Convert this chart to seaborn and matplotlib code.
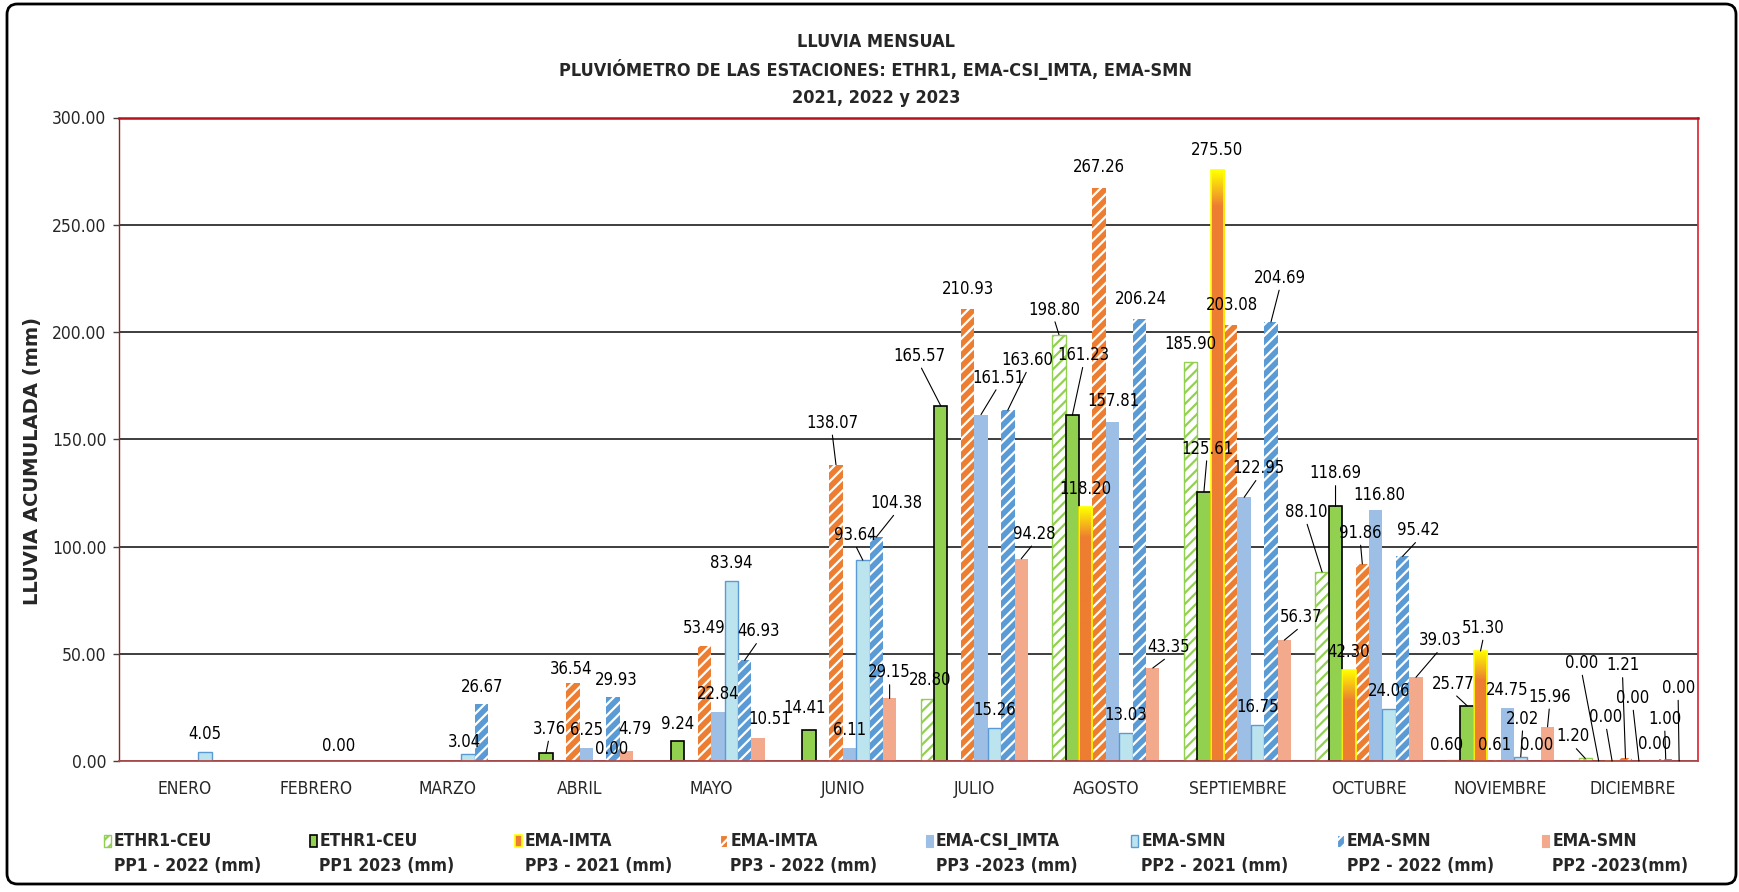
import numpy as np
import pandas as pd
import matplotlib
matplotlib.use("Agg")
import matplotlib.pyplot as plt
import seaborn as sns
from matplotlib import font_manager
from matplotlib.font_manager import FontProperties
from matplotlib.patches import Rectangle, FancyBboxPatch
from matplotlib.colors import to_rgb

# ---------------------------------------------------------------- data
nan = np.nan
months = ["ENERO", "FEBRERO", "MARZO", "ABRIL", "MAYO", "JUNIO", "JULIO",
          "AGOSTO", "SEPTIEMBRE", "OCTUBRE", "NOVIEMBRE", "DICIEMBRE"]

ethr1_2022 = [nan, nan, nan, nan, nan, nan, 28.80, 198.80, 185.90, 88.10, 0.60, 1.20]
ethr1_2023 = [nan, nan, nan, 3.76, 9.24, 14.41, 165.57, 161.23, 125.61, 118.69, 25.77, 0.00]
imta_2021 = [nan, nan, nan, nan, nan, nan, nan, 118.20, 275.50, 42.30, 51.30, 0.00]
imta_2022 = [nan, nan, nan, 36.54, 53.49, 138.07, 210.93, 267.26, 203.08, 91.86, 0.61, 1.21]
csi_imta_2023 = [nan, nan, nan, 6.25, 22.84, 6.11, 161.51, 157.81, 122.95, 116.80, 24.75, 0.00]
smn_2021 = [4.05, 0.00, 3.04, 0.00, 83.94, 93.64, 15.26, 13.03, 16.75, 24.06, 2.02, 0.00]
smn_2022 = [nan, nan, 26.67, 29.93, 46.93, 104.38, 163.60, 206.24, 204.69, 95.42, 0.00, 1.00]
smn_2023 = [nan, nan, nan, 4.79, 10.51, 29.15, 94.28, 43.35, 56.37, 39.03, 15.96, 0.00]

station_names = ["ETHR1-CEU", "ETHR1-CEU", "EMA-IMTA", "EMA-IMTA",
                 "EMA-CSI_IMTA", "EMA-SMN", "EMA-SMN", "EMA-SMN"]
period_names = ["PP1 - 2022 (mm)", "PP1 2023 (mm)", "PP3 - 2021 (mm)", "PP3 - 2022 (mm)",
                "PP3 -2023 (mm)", "PP2 - 2021 (mm)", "PP2 - 2022 (mm)", "PP2 -2023(mm)"]
series_values = [ethr1_2022, ethr1_2023, imta_2021, imta_2022,
                 csi_imta_2023, smn_2021, smn_2022, smn_2023]

title_lines = ["LLUVIA MENSUAL",
               "PLUVIÓMETRO DE LAS ESTACIONES: ETHR1, EMA-CSI_IMTA, EMA-SMN",
               "2021, 2022 y 2023"]
y_label = "LLUVIA ACUMULADA (mm)"

# ---------------------------------------------------------------- styles
series_keys = [f"{s} {p}" for s, p in zip(station_names, period_names)]
GREEN, ORANGE, LBLUE = "#92D050", "#ED7D31", "#9DBFE5"
CYAN, BLUE, SALMON = "#BCE4EE", "#5B9BD5", "#F3A98B"
base_colors = [GREEN, GREEN, ORANGE, ORANGE, LBLUE, CYAN, BLUE, SALMON]

bar_style = [
    dict(facecolor="white", edgecolor=GREEN, hatch="///", linewidth=1.0),
    dict(facecolor=GREEN, edgecolor="black", hatch=None, linewidth=1.2),
    dict(facecolor=ORANGE, edgecolor="#FFFF00", hatch=None, linewidth=1.2),
    dict(facecolor=ORANGE, edgecolor="white", hatch="///", linewidth=0.0),
    dict(facecolor=LBLUE, edgecolor=LBLUE, hatch=None, linewidth=0.0),
    dict(facecolor=CYAN, edgecolor=BLUE, hatch=None, linewidth=1.0),
    dict(facecolor=BLUE, edgecolor="white", hatch="///", linewidth=0.0),
    dict(facecolor=SALMON, edgecolor=SALMON, hatch=None, linewidth=0.0),
]

# label placement: (month, series) -> (dx px, dy px, leader line)
label_shift = {
    (1, 5): (2, 15, False), (2, 5): (-4, 12, False), (2, 6): (1, 17, False),
    (3, 1): (3, 24, True), (3, 3): (-2, 14, False), (3, 4): (0, 18, False),
    (3, 5): (12, 12, False), (3, 6): (3, 17, False), (3, 7): (8, 22, False),
    (4, 1): (0, 17, False), (4, 6): (14, 29, True), (4, 7): (12, 19, False),
    (5, 1): (-5, 22, False), (5, 3): (-4, 42, True), (5, 5): (-8, 25, True),
    (5, 6): (20, 34, True), (5, 7): (0, 26, True),
    (6, 0): (3, 19, False), (6, 1): (-21, 50, True), (6, 3): (0, 20, False),
    (6, 4): (17, 37, True), (6, 6): (20, 50, True), (6, 7): (13, 25, True),
    (7, 0): (-5, 25, True), (7, 1): (11, 60, True), (7, 3): (0, 21, False),
    (7, 4): (1, 21, False), (7, 6): (1, 20, False), (7, 7): (16, 21, True),
    (8, 1): (3, 43, True), (8, 2): (0, 20, False), (8, 3): (1, 20, False),
    (8, 4): (14, 29, True), (8, 6): (9, 44, True), (8, 7): (17, 23, True),
    (9, 0): (-16, 60, True), (9, 1): (0, 33, True), (9, 3): (-2, 31, True),
    (9, 4): (4, 15, False), (9, 6): (16, 26, True), (9, 7): (24, 37, True),
    (10, 0): (-7, 15, False), (10, 1): (-14, 22, True), (10, 2): (3, 23, True),
    (10, 3): (1, 15, False), (10, 5): (2, 38, True), (10, 6): (2, 16, False),
    (10, 7): (2, 30, True),
    (11, 0): (-12, 22, True), (11, 1): (-17, 98, True), (11, 2): (-6, 44, True),
    (11, 3): (-3, 93, True), (11, 4): (-6, 63, True), (11, 5): (2, 17, False),
    (11, 6): (-1, 40, True), (11, 7): (-1, 73, True),
}
DEFAULT_SHIFT = (0, 18, False)

# ---------------------------------------------------------------- fonts
sns.set_style("white")
installed = {f.name for f in font_manager.fontManager.ttflist}
if "Liberation Sans Narrow" in installed:
    NARROW = dict(family="Liberation Sans Narrow", stretch="normal")
else:
    NARROW = dict(family="DejaVu Sans", stretch="condensed")


def narrow(size, bold=False):
    return FontProperties(size=size, weight="bold" if bold else "normal", **NARROW)


plt.rcParams["hatch.linewidth"] = 1.6

# ---------------------------------------------------------------- frame
W, H = 1740, 892
fig = plt.figure(figsize=(W / 100, H / 100), dpi=100)
fig.patch.set_facecolor("white")
ax = fig.add_axes([119 / W, 1 - 761 / H, (1698 - 119) / W, (761 - 117.5) / H])

df = pd.DataFrame(
    [(m, key, v) for key, vals in zip(series_keys, series_values)
     for m, v in zip(months, vals)],
    columns=["mes", "serie", "lluvia"],
)

BAR_GROUP = 0.815
sns.barplot(data=df, x="mes", y="lluvia", hue="serie", order=months,
            hue_order=series_keys, palette=dict(zip(series_keys, base_colors)),
            width=BAR_GROUP, errorbar=None, saturation=1, legend=False,
            dodge=True, ax=ax)

ax.set_xlim(-0.5, 11.5)
ax.set_ylim(0, 300)
bw = BAR_GROUP / len(series_keys)

label_fp = narrow(12)
bars = [p for c in ax.containers for p in c]
for bar in bars:
    cx = bar.get_x() + bar.get_width() / 2
    m = int(round(cx))
    i = int(round((cx - m) / bw + 3.5))
    st = bar_style[i]
    bar.set_facecolor(st["facecolor"])
    bar.set_edgecolor(st["edgecolor"])
    bar.set_linewidth(st["linewidth"])
    if st["hatch"]:
        bar.set_hatch(st["hatch"])
    h = bar.get_height()

    # yellow-to-orange glow at the top of the EMA-IMTA 2021 bars
    if i == 2 and h > 0:
        px_h = h * (761 - 117.5) / 300
        g = float(np.clip(30 / px_h, 0.06, 0.35))
        t = np.linspace(0, 1, 256)
        mix = np.clip((t - (1 - g)) / g, 0, 1)[:, None]
        rgb = (1 - mix) * np.array(to_rgb(ORANGE)) + mix * np.array(to_rgb("#FFFF00"))
        img = ax.imshow(rgb[:, None, :], extent=(bar.get_x(), bar.get_x() + bar.get_width(), 0, h),
                        origin="lower", aspect="auto", zorder=bar.get_zorder(),
                        interpolation="bilinear")
        img.set_clip_path(bar)
        bar.set_facecolor("none")
        bar.set_zorder(bar.get_zorder() + 0.1)

    dx, dy, leader = label_shift.get((m, i), DEFAULT_SHIFT)
    arrow = None
    if leader:
        arrow = dict(arrowstyle="-", color="black", lw=0.8, shrinkA=0, shrinkB=0,
                     relpos=(0.5, 0.0))
    ax.annotate(f"{h:.2f}", xy=(cx, h), xytext=(dx, dy), textcoords="offset pixels",
                ha="center", va="center", fontproperties=label_fp, color="black",
                arrowprops=arrow, zorder=6, annotation_clip=False)

ax.set_xlim(-0.5, 11.5)
ax.set_ylim(0, 300)

# ---------------------------------------------------------------- axes
ax.set_xticks(range(len(months)))
ax.set_xticklabels(months, fontproperties=narrow(12.5))
ax.set_xticks(np.arange(-0.5, 12, 1), minor=True)
ax.tick_params(axis="x", which="major", length=0, pad=14)
ax.tick_params(axis="x", which="minor", length=6, width=1, color="black", direction="out")

ax.set_yticks(np.arange(0, 301, 50))
ax.set_yticklabels([f"{v:.2f}" for v in np.arange(0, 301, 50)], fontproperties=narrow(12.5))
ax.tick_params(axis="y", length=4, width=1, color="#404040", direction="out", pad=5, left=True)
ax.set_xlabel("")
ax.set_ylabel(y_label, fontsize=14, fontweight="bold", family="DejaVu Sans")
ax.yaxis.set_label_coords(-0.0485, 0.466)

ax.grid(axis="y", color="#2E2E2E", linewidth=1.3)
ax.grid(axis="x", visible=False)
ax.set_axisbelow(True)
for side, col, lw in [("top", "#B5121B", 1.8), ("right", "#E0303A", 1.3),
                      ("left", "#8B2323", 1.0), ("bottom", "#B04A4A", 1.3)]:
    ax.spines[side].set_visible(True)
    ax.spines[side].set_color(col)
    ax.spines[side].set_linewidth(lw)

# ---------------------------------------------------------------- titles
for line, ypx in zip(title_lines, [42, 70, 98]):
    fig.text(876 / W, 1 - ypx / H, line, ha="center", va="center",
             fontproperties=narrow(13, bold=True))

# ---------------------------------------------------------------- legend
leg_fp = narrow(12.5, bold=True)
for k in range(len(series_keys)):
    x0 = 104 + 205.5 * k
    st = bar_style[k]
    patch = Rectangle((x0 / W, 1 - 847 / H), 7 / W, 12 / H, transform=fig.transFigure,
                      facecolor=st["facecolor"],
                      edgecolor=st["edgecolor"] if st["linewidth"] > 0 else st["facecolor"],
                      linewidth=max(st["linewidth"], 0.8), hatch=st["hatch"])
    if k in (3, 6):
        patch.set_edgecolor("white")
    fig.add_artist(patch)
    fig.text((x0 + 10) / W, 1 - 841 / H, station_names[k], ha="left", va="center",
             fontproperties=leg_fp)
    fig.text((x0 + 10) / W, 1 - 866 / H, period_names[k], ha="left", va="center",
             fontproperties=leg_fp)

# ---------------------------------------------------------------- outer frame
frame = FancyBboxPatch((7 / W, 8 / H), 1729 / W, 880 / H, transform=fig.transFigure,
                       boxstyle="round,pad=0,rounding_size=0.006", mutation_aspect=W / H,
                       facecolor="none", edgecolor="black", linewidth=2.0)
fig.add_artist(frame)

fig.savefig("out.png", dpi=100)
